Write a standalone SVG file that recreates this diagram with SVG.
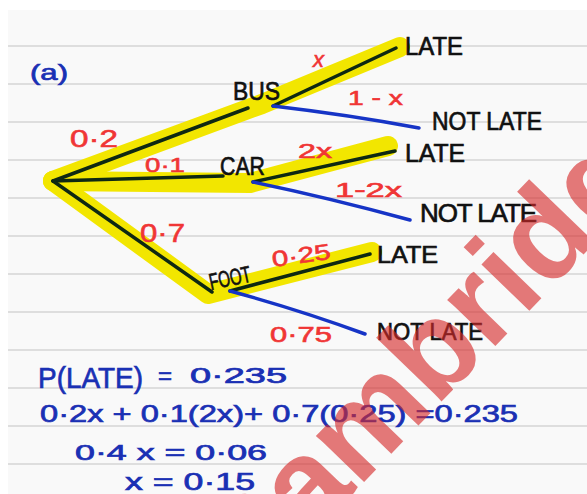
<svg xmlns="http://www.w3.org/2000/svg" width="587" height="494" viewBox="0 0 587 494">
<style>
.rule{stroke:#dedede;stroke-width:2}
.hl{fill:none;stroke:#f2e600;stroke-width:20;stroke-linecap:round;stroke-linejoin:round}
.dk{fill:none;stroke:#0e2812;stroke-width:3.5;stroke-linecap:round}
.bl{fill:none;stroke:#1634c6;stroke-width:3.5;stroke-linecap:round}
.k{font-family:"Liberation Sans",Arial,sans-serif;fill:#111;stroke:#111;stroke-width:0.7}
.r{font-family:"Liberation Sans",Arial,sans-serif;fill:#f03535;stroke:#f03535;stroke-width:0.6}
.b{font-family:"Liberation Sans",Arial,sans-serif;fill:#1a30b4;stroke:#1a30b4;stroke-width:0.7}
.wm{font-family:"Liberation Sans",Arial,sans-serif;font-weight:bold;fill:#d62a2a;opacity:0.62}
</style>
<rect width="587" height="494" fill="#ffffff"/>
<rect x="8" y="10" width="579" height="484" fill="#f9f9f9"/>
<g id="rules">
<line class="rule" x1="8" y1="46" x2="587" y2="46"/>
<line class="rule" x1="8" y1="84" x2="587" y2="84"/>
<line class="rule" x1="8" y1="122" x2="587" y2="122"/>
<line class="rule" x1="8" y1="160" x2="587" y2="160"/>
<line class="rule" x1="8" y1="198" x2="587" y2="198"/>
<line class="rule" x1="8" y1="236" x2="587" y2="236"/>
<line class="rule" x1="8" y1="274" x2="587" y2="274"/>
<line class="rule" x1="8" y1="312" x2="587" y2="312"/>
<line class="rule" x1="8" y1="350" x2="587" y2="350"/>
<line class="rule" x1="8" y1="388" x2="587" y2="388"/>
<line class="rule" x1="8" y1="426" x2="587" y2="426"/>
<line class="rule" x1="8" y1="464" x2="587" y2="464"/>
</g>
<g id="highlights">
<polyline class="hl" points="53,181 262,104 400,47"/>
<polyline class="hl" points="53,181 250,183 388,146"/>
<polyline class="hl" points="53,181 208,294 372,252"/>
</g>
<g id="connectors">
<line class="dk" x1="53" y1="181" x2="248" y2="108"/>
<line class="dk" x1="53" y1="181" x2="223" y2="176"/>
<line class="dk" x1="53" y1="181" x2="212" y2="292"/>
<line class="dk" x1="273" y1="106" x2="396" y2="48"/>
<path class="bl" d="M273,106 Q350,115 419,128"/>
<line class="dk" x1="253" y1="182" x2="395" y2="151"/>
<path class="bl" d="M253,182 Q330,198 410,220"/>
<line class="dk" x1="230" y1="291" x2="370" y2="254"/>
<path class="bl" d="M230,291 Q300,310 365,334"/>
<text class="r" x="70" y="147" font-size="24" textLength="48" lengthAdjust="spacingAndGlyphs">0·2</text>
<text class="r" x="145" y="172" font-size="21" textLength="40" lengthAdjust="spacingAndGlyphs">0·1</text>
<text class="r" x="140" y="242" font-size="26" textLength="45" lengthAdjust="spacingAndGlyphs">0·7</text>
<text class="r" x="313" y="67" font-size="22" font-style="italic">x</text>
<text class="r" x="348" y="105" font-size="20" textLength="55" lengthAdjust="spacingAndGlyphs">1 - x</text>
<text class="r" x="298" y="158" font-size="20" textLength="34" lengthAdjust="spacingAndGlyphs">2x</text>
<text class="r" x="335" y="197" font-size="20" textLength="67" lengthAdjust="spacingAndGlyphs">1-2x</text>
<text class="r" x="273" y="267" font-size="22" textLength="59" lengthAdjust="spacingAndGlyphs" transform="rotate(-8 273 267)">0·25</text>
<text class="r" x="270" y="342" font-size="22" textLength="62" lengthAdjust="spacingAndGlyphs">0·75</text>
</g>
<g id="label-a"><text class="b" x="30" y="80" font-size="22" textLength="38" lengthAdjust="spacingAndGlyphs">(a)</text></g>
<g id="node-bus"><text class="k" x="233" y="100" font-size="26" textLength="47" lengthAdjust="spacingAndGlyphs">BUS</text></g>
<g id="node-car"><text class="k" x="220" y="175" font-size="26" textLength="45" lengthAdjust="spacingAndGlyphs">CAR</text></g>
<g id="node-foot"><text class="k" x="211" y="290" font-size="23" textLength="42" lengthAdjust="spacingAndGlyphs" transform="rotate(-12 211 290)">FOOT</text></g>
<g id="node-bus-late"><text class="k" x="405" y="55" font-size="25" textLength="58" lengthAdjust="spacingAndGlyphs">LATE</text></g>
<g id="node-bus-notlate"><text class="k" x="432" y="130" font-size="25" textLength="110" lengthAdjust="spacingAndGlyphs">NOT LATE</text></g>
<g id="node-car-late"><text class="k" x="405" y="162" font-size="26" textLength="60" lengthAdjust="spacingAndGlyphs">LATE</text></g>
<g id="node-car-notlate"><text class="k" x="420" y="222" font-size="26" textLength="117" lengthAdjust="spacing">NOT  LATE</text></g>
<g id="node-foot-late"><text class="k" x="377" y="263" font-size="24" textLength="61" lengthAdjust="spacingAndGlyphs">LATE</text></g>
<g id="node-foot-notlate"><text class="k" x="377" y="340" font-size="24" textLength="106" lengthAdjust="spacingAndGlyphs">NOT LATE</text></g>
<g id="working">
<text class="b" x="38" y="388" font-size="30" textLength="105" lengthAdjust="spacingAndGlyphs">P(LATE)</text>
<text class="b" x="158" y="384" font-size="24">=</text>
<text class="b" x="190" y="383" font-size="22" textLength="97" lengthAdjust="spacingAndGlyphs">0·235</text>
<text class="b" x="40" y="422" font-size="24" textLength="478" lengthAdjust="spacingAndGlyphs">0·2x + 0·1(2x)+ 0·7(0·25) =0·235</text>
<text class="b" x="75" y="460" font-size="22" textLength="192" lengthAdjust="spacingAndGlyphs">0·4 x = 0·06</text>
<text class="b" x="125" y="490" font-size="24" textLength="130" lengthAdjust="spacingAndGlyphs">x = 0·15</text>
</g>
<text class="wm" font-size="126" transform="translate(246 604) rotate(-46)">Cambridge</text>
</svg>
